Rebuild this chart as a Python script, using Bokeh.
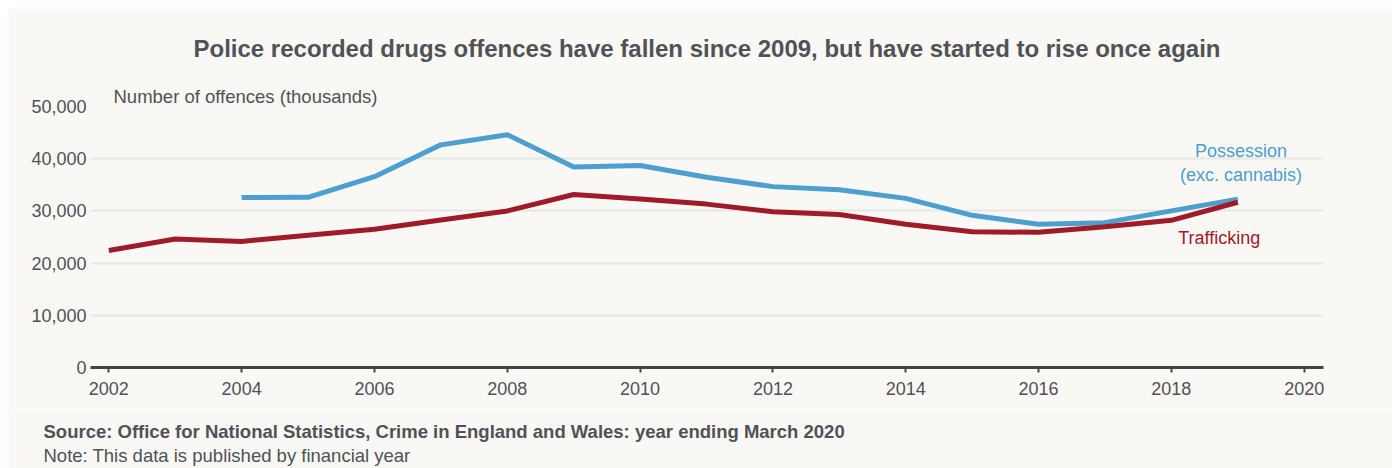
from bokeh.plotting import figure
from bokeh.models import Label, Title, FixedTicker, NumeralTickFormatter, Range1d, Spacer
from bokeh.core.properties import value
from bokeh.layouts import row, column
from bokeh.embed import file_html
from bokeh.resources import INLINE

# ---- data ----
poss_years = [2004, 2005, 2006, 2007, 2008, 2009, 2010, 2011, 2012, 2013,
              2014, 2015, 2016, 2017, 2018, 2019]
possession = [32550, 32600, 36550, 42650, 44600, 38400, 38700, 36450, 34650, 34050,
              32400, 29150, 27450, 27750, 30000, 32250]
traf_years = [2002, 2003, 2004, 2005, 2006, 2007, 2008, 2009, 2010, 2011,
              2012, 2013, 2014, 2015, 2016, 2017, 2018, 2019]
trafficking = [22400, 24600, 24150, 25350, 26500, 28250, 30000, 33150, 32300, 31300,
               29850, 29300, 27450, 26000, 25900, 26950, 28200, 31650]
x_ticks = [2002, 2004, 2006, 2008, 2010, 2012, 2014, 2016, 2018, 2020]
y_ticks = [0, 10000, 20000, 30000, 40000, 50000]

title_text = "Police recorded drugs offences have fallen since 2009, but have started to rise once again"
ylabel_text = "Number of offences (thousands)"
source_text = "Source: Office for National Statistics, Crime in England and Wales: year ending March 2020"
note_text = "Note: This data is published by financial year"

BG = "#f9f8f5"
BLUE = "#4c9fce"
RED = "#9f1b27"
TXT = "#505257"
FONT = "Liberation Sans"

W = 1384
H_MAIN = 400
H_FOOT = 60

p = figure(width=W, height=H_MAIN, output_backend="svg", toolbar_location=None,
           title=None,
           x_range=Range1d(2001.724, 2020.291), y_range=Range1d(0, 50000),
           min_border_left=82, min_border_right=69, min_border_top=98, min_border_bottom=41)
p.background_fill_color = BG
p.border_fill_color = BG
p.outline_line_color = None

p.xgrid.grid_line_color = None
p.ygrid.grid_line_color = "#e8e6e2"
p.ygrid.grid_line_width = 2

# x axis
xa = p.xaxis[0]
xa.ticker = FixedTicker(ticks=x_ticks)
xa.axis_line_color = "#444444"
xa.axis_line_width = 3
xa.major_tick_line_color = "#444444"
xa.major_tick_line_width = 2
xa.major_tick_in = 0
xa.major_tick_out = 5
xa.minor_tick_line_color = None
xa.major_label_standoff = 9
xa.major_label_text_font = FONT
xa.major_label_text_font_size = "18px"
xa.major_label_text_color = TXT

# y axis
ya = p.yaxis[0]
ya.ticker = FixedTicker(ticks=y_ticks)
ya.formatter = NumeralTickFormatter(format="0,0")
ya.axis_line_color = None
ya.major_tick_line_color = None
ya.minor_tick_line_color = None
ya.major_tick_in = 0
ya.major_tick_out = 0
ya.major_label_standoff = 4
ya.major_label_text_font = FONT
ya.major_label_text_font_size = "18px"
ya.major_label_text_color = TXT

p.line(poss_years, possession, line_color=BLUE, line_width=5)
p.line(traf_years, trafficking, line_color=RED, line_width=5)

# series labels (data space)
p.add_layout(Label(x=2019.05, y=41550, text="Possession", text_align="center",
                   text_baseline="middle", text_font=FONT, text_font_size="18px",
                   text_color=BLUE))
p.add_layout(Label(x=2019.05, y=36950, text="(exc. cannabis)", text_align="center",
                   text_baseline="middle", text_font=FONT, text_font_size="18px",
                   text_color=BLUE))
p.add_layout(Label(x=2018.72, y=24850, text="Trafficking", text_align="center",
                   text_baseline="middle", text_font=FONT, text_font_size="18px",
                   text_color=RED))

# titles above the frame
def mk_title(text, size, bold=False, align="left", offset=0, standoff=0):
    return Title(text=text, align=align, offset=offset, standoff=standoff,
                 text_font=FONT, text_font_size=size,
                 text_font_style="bold" if bold else "normal", text_color=TXT)

p.add_layout(mk_title(ylabel_text, "18.5px", offset=23, standoff=0), "above")
p.add_layout(mk_title(title_text, "24px", bold=True, align="center", standoff=44), "above")

# footer (source and note) in a pixel-space strip
f = figure(width=W, height=H_FOOT, output_backend="svg", toolbar_location=None,
           title=None, x_range=Range1d(0, W), y_range=Range1d(H_FOOT, 0),
           min_border=0, min_border_left=0, min_border_right=0,
           min_border_top=0, min_border_bottom=0,
           x_axis_type=None, y_axis_type=None)
f.background_fill_color = BG
f.border_fill_color = BG
f.outline_line_color = None
f.xgrid.visible = False
f.ygrid.visible = False
f.text(x=[35], y=[23], text=[source_text], text_font=value(FONT), text_font_size="18.5px",
       text_font_style="bold", text_color=TXT, text_baseline="middle", text_align="left")
f.text(x=[35], y=[47], text=[note_text], text_font=value(FONT), text_font_size="18.5px",
       text_color=TXT, text_baseline="middle", text_align="left")

for fig in (p, f):
    if "frame_align" in fig.properties():
        fig.frame_align = False

layout = column(Spacer(height=8), row(Spacer(width=8), column(p, f)))
open("out.html", "w").write(file_html(layout, INLINE))
